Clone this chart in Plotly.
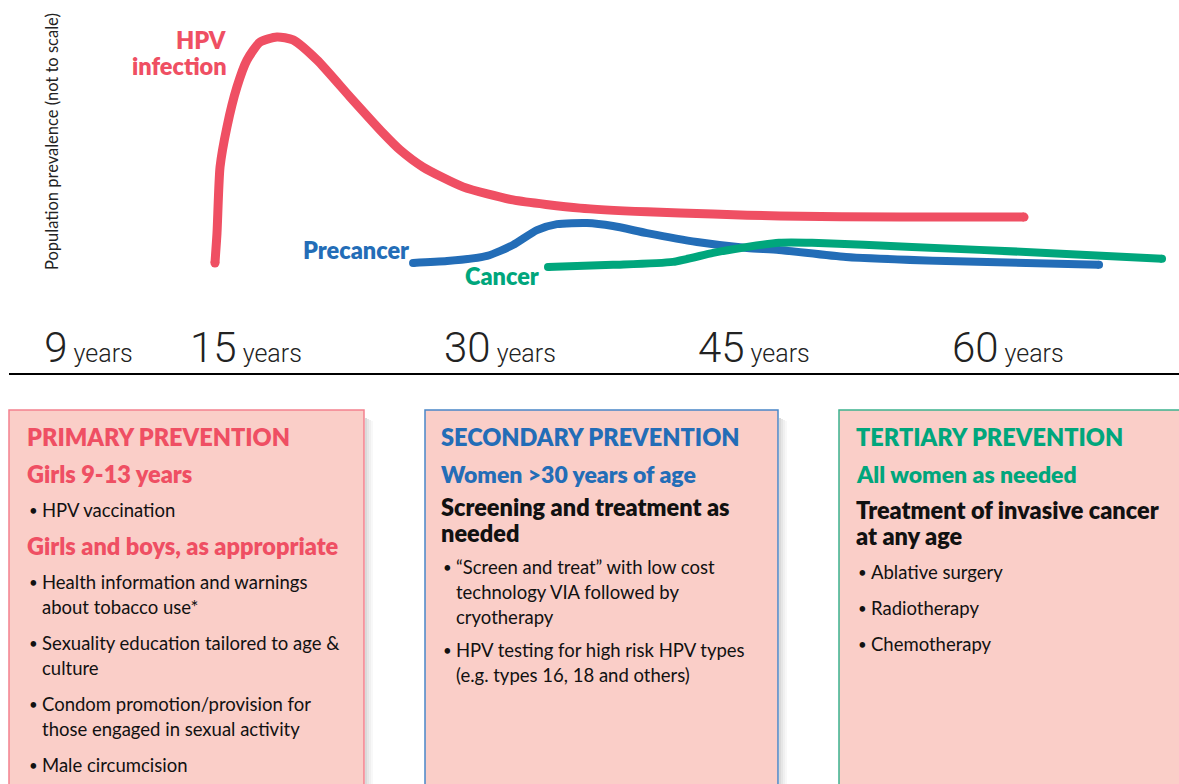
import plotly.graph_objects as go

W, H = 1179, 784

# ---------------- data (prevalence is "not to scale") -------------
hpv_age = [15.06, 15.18, 15.36, 15.77, 16.36, 16.95, 17.72, 18.72, 19.67, 21.09, 23.04,
           24.99, 25.99, 27.35, 29.71, 32.66, 36.62, 40.58, 44.48, 48.43, 55.52, 62.85]
hpv_prev = [29.5, 37.5, 55.2, 66.0, 76.7, 83.9, 88.7, 90.1, 89.3, 83.9, 74.0,
            64.3, 59.8, 55.2, 49.9, 46.4, 44.2, 43.2, 42.6, 42.1, 41.8, 41.8]

pre_age = [26.76, 28.77, 31.13, 32.66, 34.08, 35.26, 37.03, 38.57, 40.58, 43.53,
           46.49, 48.38, 52.33, 58.24, 67.28]
pre_prev = [29.5, 30.0, 31.4, 34.3, 38.3, 39.9, 40.2, 39.4, 37.5, 35.1,
            33.5, 33.0, 31.1, 30.0, 29.0]

can_age = [34.73, 38.57, 42.11, 44.48, 46.49, 48.38, 50.32, 56.23, 64.15, 71.0]
can_prev = [28.4, 29.0, 29.8, 32.2, 33.8, 34.9, 34.9, 33.8, 32.2, 30.6]

tick_ages = [9, 15, 30, 45, 60]
tick_pos = [5.7, 15, 30, 45, 60]   # axis is not to scale at the young end

series_names = ["HPV", "infection", "Precancer", "Cancer"]

primary = [("h", "PRIMARY PREVENTION"), ("s", "Girls 9-13 years"),
           ("b", ["HPV vaccination"]), ("s", "Girls and boys, as appropriate"),
           ("b", ["Health information and warnings", "about tobacco use*"]),
           ("b", ["Sexuality education tailored to age &", "culture"]),
           ("b", ["Condom promotion/provision for", "those engaged in sexual activity"]),
           ("b", ["Male circumcision"])]
secondary = [("h", "SECONDARY PREVENTION"), ("s", "Women >30 years of age"),
             ("k", ["Screening and treatment as", "needed"]),
             ("b", ["\u201cScreen and treat\u201d with low cost", "technology VIA followed by",
                    "cryotherapy"]),
             ("b", ["HPV testing for high risk HPV types", "(e.g. types 16, 18 and others)"])]
tertiary = [("h", "TERTIARY PREVENTION"), ("s", "All women as needed"),
            ("k", ["Treatment of invasive cancer", "at any age"]),
            ("b", ["Ablative surgery"]), ("b", ["Radiotherapy"]), ("b", ["Chemotherapy"])]

# ---------------- styles ----------------
RED, BLUE, GREEN = "#EF4F63", "#236DB7", "#00A67C"
FILL = "#FACEC8"
BOLD = "Lato, 'Open Sans', sans-serif"
BODY = "Lato, Roboto, sans-serif"


def X(px):
    return px / W


def Y(py):
    return 1 - py / H


PLOT_BOTTOM = 373
x_left = 9
# pixel = -40 + 16.93 * age
x_range = [(x_left + 40) / 16.93, (W + 40) / 16.93]

fig = go.Figure()
for xs, ys, col, w in [(hpv_age, hpv_prev, RED, 9), (pre_age, pre_prev, BLUE, 8),
                       (can_age, can_prev, GREEN, 8)]:
    fig.add_trace(go.Scatter(x=xs, y=ys, mode="lines",
                             line=dict(color=col, width=w, shape="spline", smoothing=0.6),
                             hoverinfo="skip", showlegend=False))
    fig.add_trace(go.Scatter(x=[xs[0], xs[-1]], y=[ys[0], ys[-1]], mode="markers",
                             marker=dict(color=col, size=w, line=dict(width=0)),
                             hoverinfo="skip", showlegend=False))

ticktext = [f"<span style='font-size:42px;font-weight:300'>{a}</span> years" for a in tick_ages]

fig.update_layout(
    width=W, height=H, margin=dict(l=0, r=0, t=0, b=0),
    paper_bgcolor="white", plot_bgcolor="white",
    xaxis=dict(domain=[x_left / W, 1], range=x_range, showgrid=False, zeroline=False,
               showline=True, linecolor="black", linewidth=1.5, ticks="",
               tickvals=tick_pos, ticktext=ticktext, ticklabelposition="inside",
               ticklabelshift=32, ticklabelstandoff=8,
               tickfont=dict(family="Roboto, Lato, sans-serif", size=25, color="#222",
                             weight=300)),
    yaxis=dict(domain=[1 - PLOT_BOTTOM / H, 1], range=[0, 100], visible=False),
)

ann = []
shapes = []

# y-axis title
ann.append(dict(x=X(52), y=Y(142), xref="paper", yref="paper", showarrow=False,
                text="Population prevalence (not to scale)", textangle=-90,
                xanchor="center", yanchor="middle",
                font=dict(family="Lato, sans-serif", size=16.5, color="#222")))

# series labels
for txt, col, px, py in [(series_names[0], RED, 229, 40), (series_names[1], RED, 229, 66),
                         (series_names[2], BLUE, 411, 250), (series_names[3], GREEN, 541, 276)]:
    ann.append(dict(x=X(px), y=Y(py), xref="paper", yref="paper", showarrow=False,
                    text=txt, xanchor="right", yanchor="middle", align="right",
                    font=dict(family=BOLD, size=23.5, color=col, weight=800)))

# prevention boxes
boxes = [(primary, RED, "#F3818F", 9, 364, 27, 36, 23.5),
         (secondary, BLUE, "#4A86C8", 425, 778, 441, 33.5, 23),
         (tertiary, GREEN, "#3DB38F", 839, 1200, 856, 36, 23)]
for content, col, bcol, x0, x1, tx, gap, ssize in boxes:
    # soft shadow on the right
    for i, op in enumerate([0.22, 0.15, 0.09, 0.04]):
        shapes.append(dict(type="rect", xref="paper", yref="paper",
                           x0=X(x1 + 1 + 2 * i), x1=X(x1 + 3 + 2 * i), y0=Y(800), y1=Y(418 + i),
                           fillcolor="#555", opacity=op, line=dict(width=0), layer="below"))
    shapes.append(dict(type="rect", xref="paper", yref="paper", x0=X(x0), x1=X(x1),
                       y0=Y(800), y1=Y(410), fillcolor=FILL,
                       line=dict(color=bcol, width=1.5), layer="below"))
    y = 437
    first = True
    prev_kind = None
    for kind, val in content:
        if not first:
            y += 36.5 if prev_kind == "h" else gap
        first = False
        prev_kind = kind
        if kind == "h":
            ann.append(dict(x=X(tx - 2), y=Y(y), xref="paper", yref="paper", showarrow=False,
                            text=val, xanchor="left", yanchor="middle",
                            font=dict(family=BOLD, size=23.5, color=col, weight=800)))
        elif kind == "s":
            ann.append(dict(x=X(tx - 2), y=Y(y), xref="paper", yref="paper", showarrow=False,
                            text=val, xanchor="left", yanchor="middle",
                            font=dict(family=BOLD, size=ssize, color=col, weight=800)))
        elif kind == "k":
            for j, line in enumerate(val):
                if j:
                    y += 26
                ann.append(dict(x=X(tx - 2), y=Y(y), xref="paper", yref="paper",
                                showarrow=False, text=line, xanchor="left", yanchor="middle",
                                font=dict(family=BOLD, size=23.5, color="#111", weight=800)))
        else:
            ann.append(dict(x=X(tx), y=Y(y), xref="paper", yref="paper", showarrow=False,
                            text="\u2022", xanchor="left", yanchor="middle",
                            font=dict(family=BODY, size=15, color="#111")))
            for j, line in enumerate(val):
                if j:
                    y += 25
                ann.append(dict(x=X(tx + 13), y=Y(y), xref="paper", yref="paper",
                                showarrow=False, text=line, xanchor="left", yanchor="middle",
                                font=dict(family=BODY, size=18.5, color="#111")))

fig.update_layout(annotations=ann, shapes=shapes)
fig.write_html("out.html", config={"displayModeBar": False},
               post_script="document.body.style.margin='0px';")
